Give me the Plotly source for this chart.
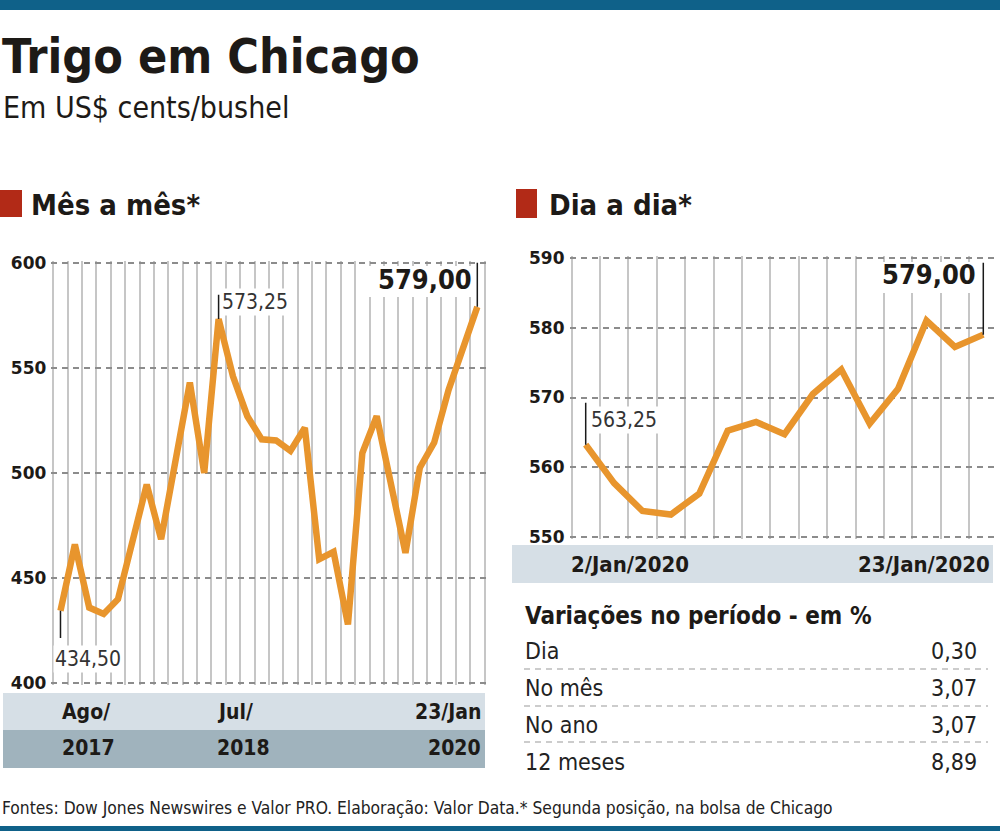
import plotly.graph_objects as go

# ---------------- data ----------------
monthly_labels = ["Ago/17", "Set/17", "Out/17", "Nov/17", "Dez/17",
                  "Jan/18", "Fev/18", "Mar/18", "Abr/18", "Mai/18", "Jun/18", "Jul/18",
                  "Ago/18", "Set/18", "Out/18", "Nov/18", "Dez/18",
                  "Jan/19", "Fev/19", "Mar/19", "Abr/19", "Mai/19", "Jun/19", "Jul/19",
                  "Ago/19", "Set/19", "Out/19", "Nov/19", "Dez/19", "23/Jan/20"]
monthly_values = [434.50, 466.0, 436.0, 433.0, 440.0,
                  468.0, 494.5, 468.5, 506.0, 543.0, 500.0, 573.25,
                  546.0, 527.0, 516.0, 515.5, 510.5,
                  521.5, 459.0, 462.5, 428.0, 509.5, 527.0, 494.5,
                  462.0, 502.5, 514.5, 539.5, 559.5, 579.00]

daily_labels = ["2/Jan", "3/Jan", "6/Jan", "7/Jan", "8/Jan", "9/Jan", "10/Jan",
                "13/Jan", "14/Jan", "15/Jan", "16/Jan", "17/Jan", "21/Jan",
                "22/Jan", "23/Jan"]
daily_values = [563.25, 557.75, 553.75, 553.25, 556.25, 565.25, 566.50,
                564.75, 570.50, 574.00, 566.25, 571.25, 581.00, 577.25, 579.00]

monthly_ticks = [400, 450, 500, 550, 600]
daily_ticks = [550, 560, 570, 580, 590]

table_labels = ["Dia", "No mês", "No ano", "12 meses"]
table_values = ["0,30", "3,07", "3,07", "8,89"]

left_band_top = ["Ago/", "Jul/", "23/Jan"]
left_band_bottom = ["2017", "2018", "2020"]
right_band = ["2/Jan/2020", "23/Jan/2020"]

# ---------------- style ----------------
W, H = 1000, 831
ORANGE = "#e8952d"
VGRID = "#c6c6c6"
HGRID = "#8c8c8c"
BAND1 = "#d6dfe6"
BAND2 = "#a0b3bd"
TOPBAR = "#0f6189"
RED = "#b22a17"
NARROW = "DejaVu Sans Condensed, sans-serif"
TICKF = "DejaVu Sans, sans-serif"
TXT = "#1d1a17"


def px(x):
    return x / W


def py(y):
    return 1 - y / H


def padded(v0, v1, p0, p1, pad_px0, pad_px1):
    """Axis range and pixel extent, padded by a couple of pixels so that
    gridlines sitting exactly on the plot edge are still drawn."""
    k = (p1 - p0) / (v1 - v0)
    return ([v0 - pad_px0 / k, v1 + pad_px1 / k], p0 - pad_px0, p1 + pad_px1)


fig = go.Figure()

mx = list(range(len(monthly_values)))
dx = list(range(len(daily_values)))

fig.add_trace(go.Scatter(x=mx, y=monthly_values, mode="lines",
                         line=dict(color=ORANGE, width=6.5),
                         text=monthly_labels, hoverinfo="text+y",
                         xaxis="x", yaxis="y", showlegend=False))
fig.add_trace(go.Scatter(x=dx, y=daily_values, mode="lines",
                         line=dict(color=ORANGE, width=6.5),
                         text=daily_labels, hoverinfo="text+y",
                         xaxis="x2", yaxis="y2", showlegend=False))

xcommon = dict(showticklabels=False, showgrid=True, gridcolor=VGRID, gridwidth=1.5,
               zeroline=False, showline=False, ticks="", tickmode="array",
               automargin=False)
ycommon = dict(showgrid=True, gridcolor=HGRID, gridwidth=1.5, griddash="6px,5px",
               zeroline=False, showline=False, ticks="", tickmode="array",
               tickfont=dict(family=TICKF, size=17, color=TXT, weight="bold"),
               ticklabelstandoff=4, automargin=False)

# left: x -0.5..29.5 -> px 53.3..484.5 ; y 400..600 -> px 683.3..262.7
xr1, xa1, xb1 = padded(-0.5, len(mx) - 0.5, 53.3, 484.5, 2, 2)
yr1, ya1, yb1 = padded(400, 600, 683.3, 262.7, -2, -2)
# right: x -0.5..14.5 -> px 571.5..997.5 ; y 550..590 -> px 537.2..257.8
xr2, xa2, xb2 = padded(-0.5, len(dx) - 0.5, 571.5, 997.5, 2, 0)
yr2, ya2, yb2 = padded(550, 590, 537.2, 257.8, -2, -2)

fig.update_layout(
    template="none",
    width=W, height=H,
    autosize=False,
    margin=dict(l=0, r=0, t=0, b=0, pad=0),
    paper_bgcolor="white", plot_bgcolor="white",
    showlegend=False,
    xaxis=dict(domain=[px(xa1), px(xb1)], range=xr1,
               tickvals=[i - 0.5 for i in range(len(mx) + 1)], **xcommon),
    yaxis=dict(domain=[py(ya1), py(yb1)], range=yr1,
               tickvals=monthly_ticks, **ycommon),
    xaxis2=dict(domain=[px(xa2), min(1.0, px(xb2))], range=xr2,
                tickvals=[i - 0.5 for i in range(len(dx))], anchor="y2", **xcommon),
    yaxis2=dict(domain=[py(ya2), py(yb2)], range=yr2,
                tickvals=daily_ticks, anchor="x2", **ycommon),
)

shapes = []
ann = []

# top and bottom bars
shapes.append(dict(type="rect", xref="paper", yref="paper", x0=0, x1=1,
                   y0=py(10), y1=1, fillcolor=TOPBAR, line_width=0, layer="above"))
shapes.append(dict(type="rect", xref="paper", yref="paper", x0=0, x1=1,
                   y0=0, y1=py(826), fillcolor=TOPBAR, line_width=0, layer="above"))

# heading squares
shapes.append(dict(type="rect", xref="paper", yref="paper", x0=px(0), x1=px(22),
                   y0=py(217), y1=py(190), fillcolor=RED, line_width=0))
shapes.append(dict(type="rect", xref="paper", yref="paper", x0=px(516), x1=px(537),
                   y0=py(218), y1=py(189), fillcolor=RED, line_width=0))

# bands
shapes.append(dict(type="rect", xref="paper", yref="paper", x0=px(3), x1=px(485),
                   y0=py(730), y1=py(693), fillcolor=BAND1, line_width=0))
shapes.append(dict(type="rect", xref="paper", yref="paper", x0=px(3), x1=px(485),
                   y0=py(768), y1=py(730), fillcolor=BAND2, line_width=0))
shapes.append(dict(type="rect", xref="paper", yref="paper", x0=px(512), x1=px(993),
                   y0=py(583), y1=py(545), fillcolor=BAND1, line_width=0))

# white backgrounds behind value labels (cover gridlines)
shapes.append(dict(type="rect", xref="paper", yref="paper", x0=px(368), x1=px(475),
                   y0=py(297), y1=py(266), fillcolor="white", line_width=0, layer="above"))
shapes.append(dict(type="rect", xref="paper", yref="paper", x0=px(880), x1=px(981),
                   y0=py(293), y1=py(262), fillcolor="white", line_width=0, layer="above"))

# leader lines
lead = dict(color="#1a1a1a", width=1.5)
i_max = monthly_values.index(max(monthly_values[:20]))
shapes.append(dict(type="line", xref="x", yref="y", x0=0, x1=0,
                   y0=monthly_values[0], y1=monthly_values[0] - 13, line=lead, layer="above"))
shapes.append(dict(type="line", xref="x", yref="y", x0=i_max, x1=i_max,
                   y0=monthly_values[i_max], y1=monthly_values[i_max] + 11.5, line=lead, layer="above"))
shapes.append(dict(type="line", xref="x", yref="y", x0=len(mx) - 1, x1=len(mx) - 1,
                   y0=monthly_values[-1], y1=600, line=lead, layer="above"))
shapes.append(dict(type="line", xref="x2", yref="y2", x0=0, x1=0,
                   y0=daily_values[0], y1=daily_values[0] + 6, line=lead, layer="above"))
shapes.append(dict(type="line", xref="x2", yref="y2", x0=len(dx) - 1, x1=len(dx) - 1,
                   y0=daily_values[-1], y1=589.3, line=lead, layer="above"))

# table separators
for yy in [669, 706, 742]:
    shapes.append(dict(type="line", xref="paper", yref="paper", x0=px(524), x1=px(988),
                       y0=py(yy), y1=py(yy), line=dict(color="#9a9a9a", width=1.2, dash="6px,5px")))


def fmt(v):
    return f"{v:.2f}".replace(".", ",")


def A(text, x, y, size, xanchor="left", bold=False, family=NARROW, color=TXT, **kw):
    d = dict(text=text, x=px(x), y=py(y), xref="paper", yref="paper",
             xanchor=xanchor, yanchor="middle", showarrow=False,
             font=dict(family=family, size=size, color=color,
                       weight="bold" if bold else "normal"))
    d.update(kw)
    ann.append(d)


# titles
A("Trigo em Chicago", 0, 56, 48, bold=True)
A("Em US$ cents/bushel", 1, 108, 30)
A("Mês a mês*", 29, 205, 29, bold=True)
A("Dia a dia*", 547, 205, 29, bold=True)

# value labels (data-referenced)
ann.append(dict(text=fmt(monthly_values[0]), x=0, y=monthly_values[0] - 23,
                xref="x", yref="y", xanchor="left", yanchor="middle", xshift=-7,
                showarrow=False, bgcolor="white",
                font=dict(family=NARROW, size=21, color="#333")))
ann.append(dict(text=fmt(monthly_values[i_max]), x=i_max, y=monthly_values[i_max] + 8,
                xref="x", yref="y", xanchor="left", yanchor="middle", xshift=1,
                showarrow=False, bgcolor="white",
                font=dict(family=NARROW, size=21, color="#333")))
ann.append(dict(text=fmt(monthly_values[-1]), x=len(mx) - 1, y=592,
                xref="x", yref="y", xanchor="right", yanchor="middle", xshift=-3,
                showarrow=False,
                font=dict(family=NARROW, size=27, color=TXT, weight="bold")))
ann.append(dict(text=fmt(daily_values[0]), x=0, y=daily_values[0] + 3.6,
                xref="x2", yref="y2", xanchor="left", yanchor="middle", xshift=3,
                showarrow=False, bgcolor="white",
                font=dict(family=NARROW, size=21, color="#333")))
ann.append(dict(text=fmt(daily_values[-1]), x=len(dx) - 1, y=587.6,
                xref="x2", yref="y2", xanchor="right", yanchor="middle", xshift=-5,
                showarrow=False,
                font=dict(family=NARROW, size=27, color=TXT, weight="bold")))

# band labels
A(left_band_top[0], 60, 712, 21, bold=True)
A(left_band_top[1], 215, 712, 21, bold=True)
A(left_band_top[2], 483, 712, 21, xanchor="right", bold=True)
A(left_band_bottom[0], 60, 748, 21, bold=True)
A(left_band_bottom[1], 215, 748, 21, bold=True)
A(left_band_bottom[2], 483, 748, 21, xanchor="right", bold=True)
A(right_band[0], 569, 564, 22, bold=True)
A(right_band[1], 992, 564, 22, xanchor="right", bold=True)

# table
A("Variações no período - em %", 523, 616, 24, bold=True)
for i, (lab, val) in enumerate(zip(table_labels, table_values)):
    yy = 651 + i * 37
    A(lab, 523, yy, 23, color="#222")
    A(val, 979, yy, 23, xanchor="right", color="#222")

# footer
A("Fontes: Dow Jones Newswires e Valor PRO. Elaboração: Valor Data.* Segunda posição, na bolsa de Chicago",
  0, 808, 17.3, color="#222")

fig.update_layout(shapes=shapes, annotations=ann)
fig.write_html("out.html",
               config={"displayModeBar": False},
               post_script="document.body.style.margin='0';document.body.style.overflow='hidden';")
